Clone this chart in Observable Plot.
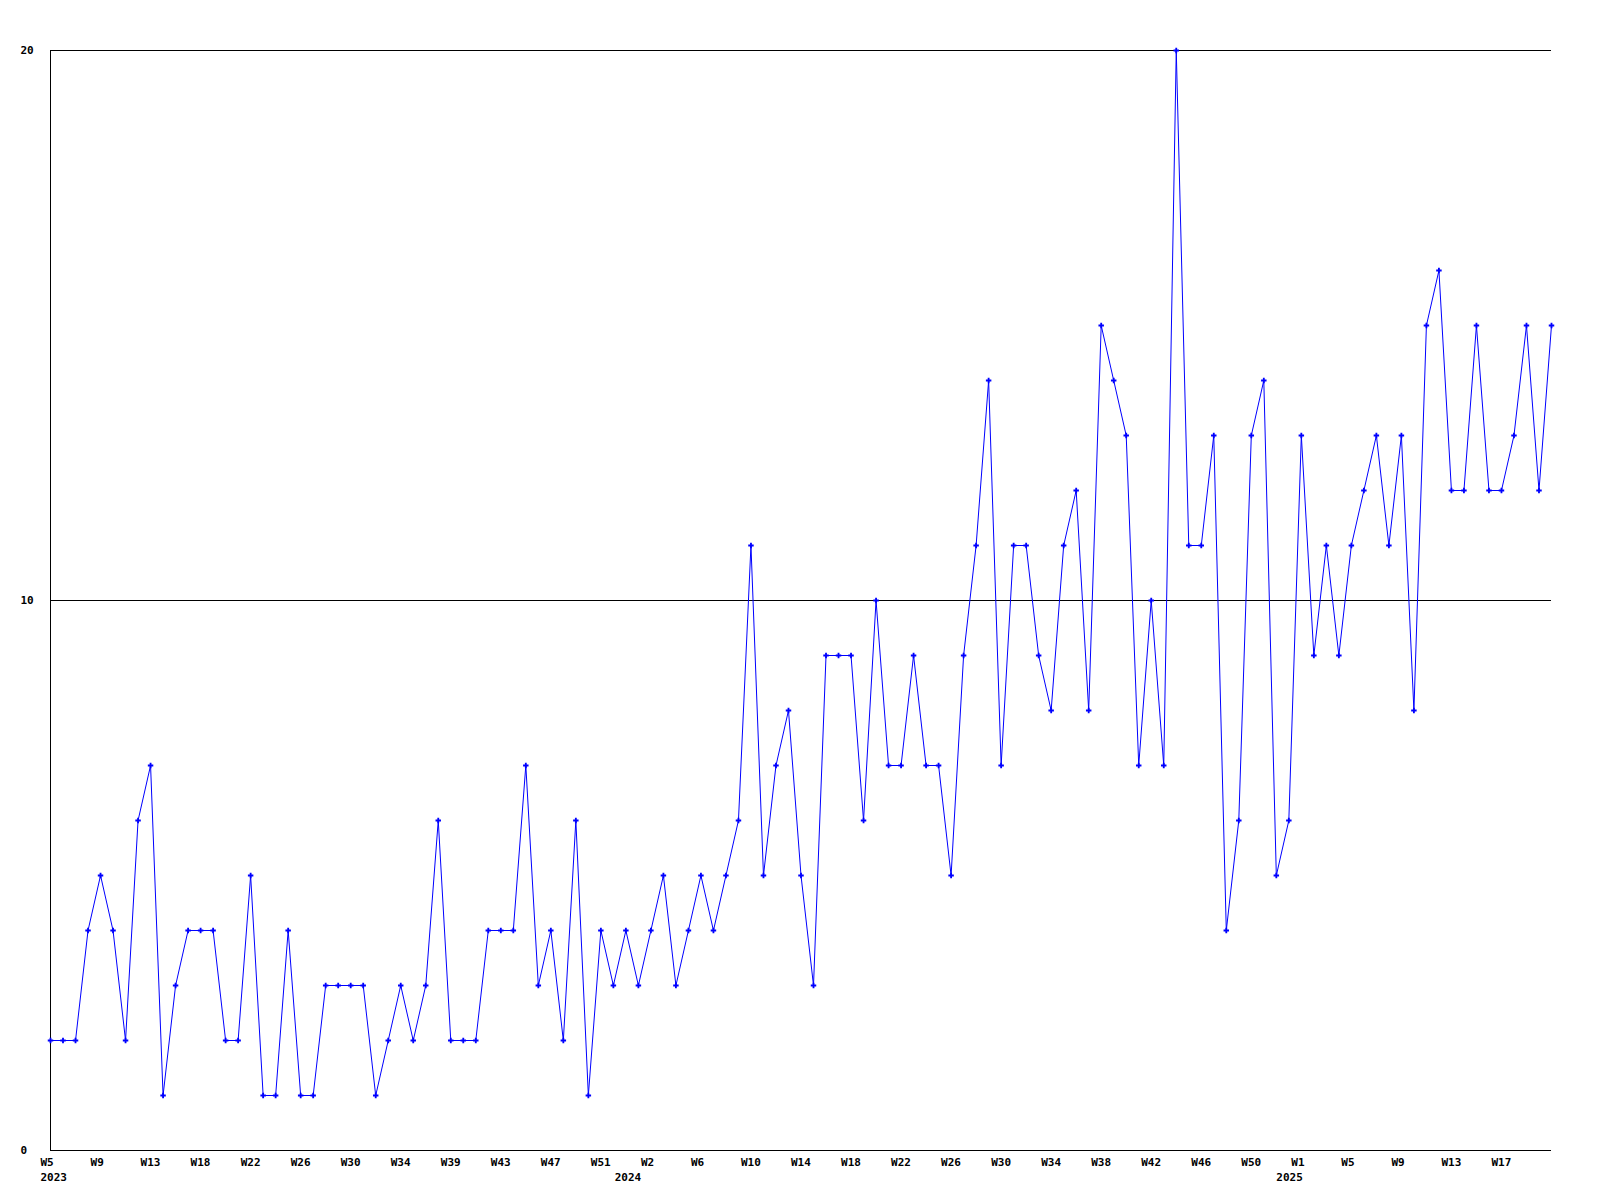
<!DOCTYPE html>
<html>
<head>
<meta charset="utf-8">
<script src="https://cdn.jsdelivr.net/npm/d3@7"></script>
<script src="https://cdn.jsdelivr.net/npm/@observablehq/plot@0.6"></script>
<style>
  html, body { margin: 0; padding: 0; background: #fff; }
  #chart svg { display: block; }
</style>
</head>
<body>
<div id="chart"></div>
<script>
// Weekly counts, 2023 W5 onward (one value per week)
const values = [
  2,2,2,4,5,4,2,6,7,1,
  3,4,4,4,2,2,5,1,1,4,
  1,1,3,3,3,3,1,2,3,2,
  3,6,2,2,2,4,4,4,7,3,
  4,2,6,1,4,3,4,3,4,5,
  3,4,5,4,5,6,11,5,7,8,
  5,3,9,9,9,6,10,7,7,9,
  7,7,5,9,11,14,7,11,11,9,
  8,11,12,8,15,14,13,7,10,7,
  20,11,11,13,4,6,13,14,5,6,
  13,9,11,9,11,12,13,11,13,8,
  15,16,12,12,15,12,12,13,15,12,15
];

// Tick labels shown every 4th week
const tickLabels = ["W5","W9","W13","W18","W22","W26","W30","W34","W39","W43","W47","W51",
  "W2","W6","W10","W14","W18","W22","W26","W30","W34","W38","W42","W46","W50",
  "W1","W5","W9","W13","W17"];
const tickWeeks = tickLabels.map((_, k) => k * 4);

// Year labels and the week index they sit under
const yearLabels = ["2023", "2024", "2025"];
const yearWeeks = [0, 45.9, 98.8];

const yTicks = [0, 10, 20];

const data = values.map((v, i) => ({week: i, value: v}));
const years = yearLabels.map((t, k) => ({week: yearWeeks[k], text: t}));
const labelOf = new Map(tickWeeks.map((w, k) => [w, tickLabels[k]]));

const font = "'DejaVu Sans Mono', monospace";

const chart = Plot.plot({
  width: 1600,
  height: 1200,
  marginLeft: 50,
  marginRight: 49,
  marginTop: 50,
  marginBottom: 50,
  style: {fontFamily: font, fontSize: "11px", fontWeight: "bold", color: "#000", background: "#fff"},
  x: {domain: [0, values.length - 1]},
  y: {domain: [0, 20]},
  marks: [
    Plot.ruleY([10, 20], {stroke: "#000", strokeWidth: 1}),
    Plot.ruleY([0], {stroke: "#000", strokeWidth: 1}),
    Plot.ruleX([0], {stroke: "#000", strokeWidth: 1}),
    Plot.axisX({ticks: tickWeeks, tickFormat: w => labelOf.get(w), tickSize: 0, tickPadding: 8, dx: -10, textAnchor: "start", label: null, fontWeight: "bold"}),
    Plot.axisY({ticks: yTicks, tickSize: 0, tickPadding: 30, textAnchor: "start", label: null, fontWeight: "bold"}),
    Plot.text(years, {x: "week", y: () => 0, text: "text", dy: 27, dx: -10, textAnchor: "start", fontWeight: "bold"}),
    Plot.line(data, {x: "week", y: "value", stroke: "#0000ff", strokeWidth: 1}),
    Plot.dot(data, {x: "week", y: "value", symbol: "cross", r: 2.3, fill: "#0000ff", stroke: "none"})
  ]
});
document.getElementById("chart").appendChild(chart);
</script>
</body>
</html>
